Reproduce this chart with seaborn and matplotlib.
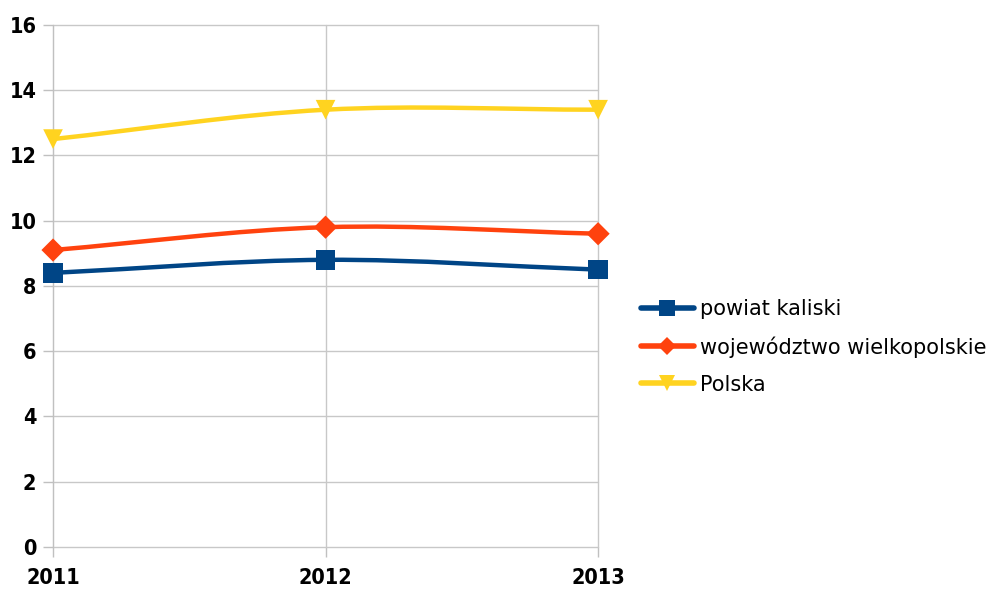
import numpy as np
import pandas as pd
import matplotlib.pyplot as plt
import seaborn as sns
from matplotlib.path import Path
from matplotlib.patches import PathPatch
from matplotlib.lines import Line2D

# data
years = [2011, 2012, 2013]
powiat = [8.4, 8.8, 8.5]
wojewodztwo = [9.1, 9.8, 9.6]
polska = [12.5, 13.4, 13.4]
series_names = ["powiat kaliski", "województwo wielkopolskie", "Polska"]
y_ticks = [0, 2, 4, 6, 8, 10, 12, 14, 16]

colors = ["#004586", "#ff420e", "#ffd320"]
markers = ["s", "D", "v"]
msizes = [200, 140, 200]

sns.set_style("white")
plt.rcParams["font.family"] = ["DejaVu Sans"]

df = pd.DataFrame({
    "year": years * 3,
    "value": powiat + wojewodztwo + polska,
    "series": [n for n in series_names for _ in years],
})

fig = plt.figure(figsize=(9.91, 5.92), dpi=100)
ax = fig.add_axes([0.0535, 0.076, 0.55, 0.882])


def smooth_path(xs, ys):
    # cubic bezier segments through the points (catmull-rom style tangents)
    xs = np.asarray(xs, float)
    ys = np.asarray(ys, float)
    n = len(xs)
    m = np.zeros(n)
    for i in range(n):
        if i == 0:
            m[i] = (ys[1] - ys[0]) / (xs[1] - xs[0])
        elif i == n - 1:
            m[i] = (ys[-1] - ys[-2]) / (xs[-1] - xs[-2])
        else:
            m[i] = (ys[i + 1] - ys[i - 1]) / (xs[i + 1] - xs[i - 1])
    verts = [(xs[0], ys[0])]
    codes = [Path.MOVETO]
    for i in range(n - 1):
        dx = xs[i + 1] - xs[i]
        verts += [(xs[i] + dx / 3, ys[i] + m[i] * dx / 3),
                  (xs[i + 1] - dx / 3, ys[i + 1] - m[i + 1] * dx / 3),
                  (xs[i + 1], ys[i + 1])]
        codes += [Path.CURVE4] * 3
    return Path(verts, codes)


for name, c in zip(series_names, colors):
    sub = df[df["series"] == name]
    patch = PathPatch(smooth_path(sub["year"], sub["value"]), facecolor="none",
                      edgecolor=c, lw=3.2, capstyle="round", zorder=2, clip_on=False)
    ax.add_patch(patch)

sns.scatterplot(data=df, x="year", y="value", hue="series", style="series",
                palette=colors, markers=dict(zip(series_names, markers)),
                size="series", sizes=dict(zip(series_names, msizes)),
                edgecolor="none", legend=False, ax=ax, zorder=3)
for coll in ax.collections:
    coll.set_clip_on(False)

ax.set_xlim(2011, 2013)
ax.set_ylim(0, 16)
ax.set_xticks(years)
ax.set_xticklabels([str(y) for y in years], fontsize=15.5, fontweight="bold",
                   fontstretch="condensed")
ax.set_yticks(y_ticks)
ax.set_yticklabels([str(t) for t in y_ticks], fontsize=15.5, fontweight="bold",
                   fontstretch="condensed")
ax.set_xlabel("")
ax.set_ylabel("")
ax.grid(True, color="#c8c8c8", lw=1)
ax.set_axisbelow(True)
for gl in ax.get_xgridlines() + ax.get_ygridlines():
    gl.set_clip_on(False)
for s in ["top", "right", "bottom"]:
    ax.spines[s].set_visible(False)
ax.spines["left"].set_color("#c0c0c0")
ax.tick_params(axis="y", left=True, length=7, width=1, color="#c0c0c0", pad=5, labelcolor="black")
ax.tick_params(axis="x", bottom=True, length=7, width=1, color="#c0c0c0", pad=8, labelcolor="black")

handles = [Line2D([0], [0], color=c, lw=4, marker=mk, markersize=ms, markeredgewidth=0)
           for c, mk, ms in zip(colors, markers, [12, 9, 12])]
fig.legend(handles, series_names, loc="center left", bbox_to_anchor=(0.638, 0.414),
           frameon=False, fontsize=15.0, handlelength=2.55, handletextpad=0.3,
           labelspacing=0.82, borderaxespad=0, labelcolor="black")

fig.savefig("out.png", dpi=100)
